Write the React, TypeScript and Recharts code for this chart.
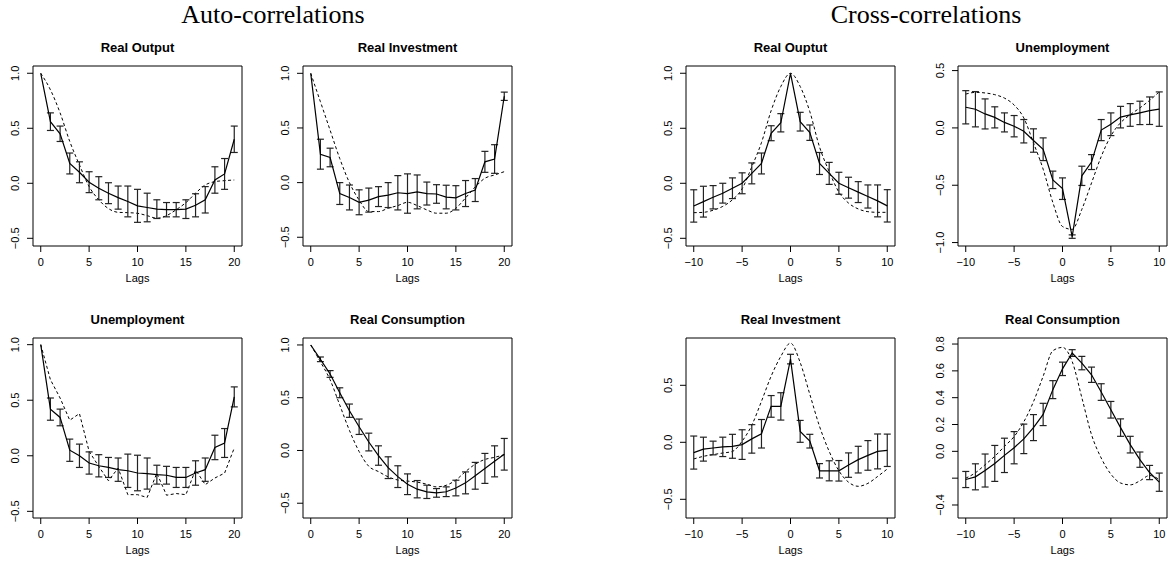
import { ErrorBar, Line, LineChart, ReferenceArea, XAxis, YAxis } from "recharts";

// lags
const AUTO_LAGS = [0, 1, 2, 3, 4, 5, 6, 7, 8, 9, 10, 11, 12, 13, 14, 15, 16, 17, 18, 19, 20];
const CROSS_LAGS = [-10, -9, -8, -7, -6, -5, -4, -3, -2, -1, 0, 1, 2, 3, 4, 5, 6, 7, 8, 9, 10];
const AUTO_TICKS = [0, 5, 10, 15, 20];
const CROSS_TICKS = [-10, -5, 0, 5, 10];

// Auto-correlations: data (solid, with error bars) and model (dashed)
const outputAutoData = [1.0, 0.56, 0.45, 0.18, 0.1, 0.01, -0.045, -0.09, -0.13, -0.165, -0.205, -0.22, -0.235, -0.24, -0.24, -0.235, -0.2, -0.15, 0.03, 0.085, 0.4];
const outputAutoErr = [null, 0.08, 0.07, 0.095, 0.095, 0.095, 0.105, 0.095, 0.105, 0.14, 0.15, 0.13, 0.085, 0.065, 0.065, 0.085, 0.105, 0.12, 0.12, 0.14, 0.12];
const outputAutoModel = [1.0, 0.85, 0.64, 0.38, 0.167, -0.03, -0.15, -0.23, -0.264, -0.267, -0.273, -0.294, -0.318, -0.294, -0.24, -0.176, -0.09, -0.015, 0.015, 0.024, 0.03];

const investAutoData = [1.0, 0.26, 0.23, -0.1, -0.136, -0.18, -0.16, -0.128, -0.114, -0.093, -0.1, -0.085, -0.1, -0.104, -0.132, -0.139, -0.1, -0.068, 0.19, 0.216, 0.79];
const investAutoErr = [null, 0.137, 0.085, 0.1, 0.114, 0.114, 0.11, 0.091, 0.114, 0.157, 0.18, 0.155, 0.105, 0.085, 0.108, 0.111, 0.119, 0.105, 0.096, 0.131, 0.038];
const investAutoModel = [1.0, 0.74, 0.48, 0.22, 0.0, -0.16, -0.265, -0.265, -0.235, -0.21, -0.18, -0.21, -0.25, -0.28, -0.28, -0.235, -0.14, -0.04, 0.04, 0.07, 0.1];

const unempAutoData = [1.0, 0.42, 0.345, 0.05, 0.0, -0.065, -0.09, -0.105, -0.125, -0.135, -0.155, -0.16, -0.17, -0.175, -0.195, -0.195, -0.155, -0.125, 0.075, 0.115, 0.53];
const unempAutoErr = [null, 0.1, 0.075, 0.1, 0.105, 0.1, 0.1, 0.09, 0.105, 0.15, 0.16, 0.14, 0.085, 0.08, 0.09, 0.09, 0.11, 0.105, 0.11, 0.13, 0.09];
const unempAutoModel = [1.0, 0.685, 0.52, 0.32, 0.38, 0.04, -0.096, -0.225, -0.11, -0.35, -0.35, -0.375, -0.156, -0.355, -0.34, -0.35, -0.126, -0.26, -0.2, -0.156, 0.07];

const consAutoData = [1.0, 0.864, 0.725, 0.547, 0.377, 0.225, 0.08, -0.048, -0.163, -0.248, -0.32, -0.367, -0.392, -0.402, -0.391, -0.356, -0.307, -0.24, -0.17, -0.103, -0.036];
const consAutoErr = [null, 0.022, 0.032, 0.047, 0.063, 0.073, 0.084, 0.092, 0.103, 0.103, 0.098, 0.082, 0.063, 0.041, 0.046, 0.074, 0.104, 0.127, 0.142, 0.147, 0.15];
const consAutoModel = [1.0, 0.84, 0.67, 0.43, 0.19, -0.01, -0.15, -0.2, -0.25, -0.28, -0.29, -0.3, -0.32, -0.345, -0.33, -0.28, -0.2, -0.13, -0.085, -0.065, -0.04];

// Cross-correlations with output
const outputCrossData = [-0.206, -0.167, -0.127, -0.09, -0.045, 0.0, 0.09, 0.18, 0.455, 0.55, 1.0, 0.56, 0.46, 0.18, 0.09, 0.0, -0.04, -0.08, -0.12, -0.16, -0.205];
const outputCrossErr = [0.147, 0.14, 0.106, 0.09, 0.094, 0.095, 0.095, 0.095, 0.068, 0.083, null, 0.085, 0.07, 0.1, 0.1, 0.1, 0.095, 0.095, 0.105, 0.145, 0.147];
const outputCrossModel = [-0.267, -0.264, -0.245, -0.21, -0.15, -0.05, 0.15, 0.37, 0.66, 0.88, 1.0, 0.88, 0.65, 0.33, 0.106, -0.08, -0.18, -0.233, -0.258, -0.264, -0.264];

const unempCrossData = [0.18, 0.163, 0.122, 0.092, 0.048, 0.015, -0.029, -0.11, -0.186, -0.453, -0.53, -0.948, -0.418, -0.298, -0.019, 0.032, 0.094, 0.113, 0.131, 0.15, 0.164];
const unempCrossErr = [0.145, 0.154, 0.131, 0.092, 0.083, 0.093, 0.102, 0.102, 0.099, 0.076, 0.094, 0.015, 0.084, 0.065, 0.092, 0.099, 0.094, 0.099, 0.102, 0.12, 0.15];
const unempCrossModel = [0.295, 0.31, 0.305, 0.29, 0.26, 0.2, 0.087, -0.13, -0.36, -0.65, -0.86, -0.885, -0.71, -0.48, -0.25, -0.07, 0.045, 0.115, 0.175, 0.24, 0.315];

const investCrossData = [-0.09, -0.06, -0.05, -0.04, -0.035, -0.02, 0.03, 0.075, 0.315, 0.315, 0.73, 0.096, 0.01, -0.25, -0.25, -0.25, -0.2, -0.152, -0.115, -0.08, -0.07];
const investCrossErr = [0.145, 0.105, 0.06, 0.085, 0.105, 0.13, 0.125, 0.125, 0.095, 0.12, 0.042, 0.096, 0.06, 0.063, 0.088, 0.09, 0.107, 0.117, 0.13, 0.153, 0.142];
const investCrossModel = [-0.146, -0.123, -0.108, -0.094, -0.08, 0.01, 0.15, 0.36, 0.58, 0.754, 0.87, 0.7, 0.42, 0.14, -0.08, -0.25, -0.35, -0.386, -0.36, -0.3, -0.234];

const consCrossData = [-0.21, -0.19, -0.143, -0.09, -0.03, 0.027, 0.093, 0.177, 0.275, 0.46, 0.615, 0.733, 0.658, 0.571, 0.442, 0.31, 0.177, 0.05, -0.062, -0.158, -0.23];
const consCrossErr = [0.06, 0.097, 0.123, 0.134, 0.128, 0.12, 0.11, 0.097, 0.083, 0.067, 0.05, 0.025, 0.05, 0.057, 0.062, 0.062, 0.065, 0.062, 0.057, 0.053, 0.068];
const consCrossModel = [-0.2, -0.16, -0.1, -0.037, 0.037, 0.11, 0.22, 0.37, 0.56, 0.75, 0.775, 0.67, 0.4, 0.124, -0.05, -0.17, -0.236, -0.25, -0.22, -0.18, -0.21];

const BOX_W = 209;
const BOX_H = 180;
const ML = 40;
const MT = 40;
const MR = 10;
const MB = 45;
const SANS = "'Liberation Sans', Arial, Helvetica, sans-serif";

const AUTO_X: [number, number] = [-0.8, 20.8];
const CROSS_X: [number, number] = [-10.8, 10.8];

const panels = [
  { title: "Real Output", left: 33, top: 66, lags: AUTO_LAGS, data: outputAutoData, err: outputAutoErr, model: outputAutoModel, xTicks: AUTO_TICKS, xDomain: AUTO_X, yTicks: [-0.5, 0, 0.5, 1], yDomain: [-0.57, 1.066], smooth: true },
  { title: "Real Investment", left: 303, top: 66, lags: AUTO_LAGS, data: investAutoData, err: investAutoErr, model: investAutoModel, xTicks: AUTO_TICKS, xDomain: AUTO_X, yTicks: [-0.5, 0, 0.5, 1], yDomain: [-0.58, 1.067], smooth: true },
  { title: "Unemployment", left: 33, top: 338, lags: AUTO_LAGS, data: unempAutoData, err: unempAutoErr, model: unempAutoModel, xTicks: AUTO_TICKS, xDomain: AUTO_X, yTicks: [-0.5, 0, 0.5, 1], yDomain: [-0.56, 1.06], smooth: false },
  { title: "Real Consumption", left: 303, top: 338, lags: AUTO_LAGS, data: consAutoData, err: consAutoErr, model: consAutoModel, xTicks: AUTO_TICKS, xDomain: AUTO_X, yTicks: [-0.5, 0, 0.5, 1], yDomain: [-0.64, 1.066], smooth: true },
  { title: "Real Ouptut", left: 686, top: 66, lags: CROSS_LAGS, data: outputCrossData, err: outputCrossErr, model: outputCrossModel, xTicks: CROSS_TICKS, xDomain: CROSS_X, yTicks: [-0.5, 0, 0.5, 1], yDomain: [-0.57, 1.066], smooth: true },
  { title: "Unemployment", left: 958, top: 66, lags: CROSS_LAGS, data: unempCrossData, err: unempCrossErr, model: unempCrossModel, xTicks: CROSS_TICKS, xDomain: CROSS_X, yTicks: [-1, -0.5, 0, 0.5], yDomain: [-1.03, 0.54], smooth: true },
  { title: "Real Investment", left: 686, top: 338, lags: CROSS_LAGS, data: investCrossData, err: investCrossErr, model: investCrossModel, xTicks: CROSS_TICKS, xDomain: CROSS_X, yTicks: [-0.5, 0, 0.5], yDomain: [-0.664, 0.915], smooth: true },
  { title: "Real Consumption", left: 958, top: 338, lags: CROSS_LAGS, data: consCrossData, err: consCrossErr, model: consCrossModel, xTicks: CROSS_TICKS, xDomain: CROSS_X, yTicks: [-0.4, -0.2, 0, 0.2, 0.4, 0.6, 0.8], yDomain: [-0.497, 0.845], smooth: true, noLabel: [-0.2] },
];

const minus = (s: string) => s.replace("-", "\u2212");

function XTick(props: any) {
  const { x, y, payload } = props;
  return (
    <text x={x} y={y + 12} textAnchor="middle" fontSize={11} fontFamily={SANS} fill="#000">
      {minus(String(payload.value))}
    </text>
  );
}

function YTick(props: any) {
  const { x, y, payload, noLabel } = props;
  if (noLabel && noLabel.includes(payload.value)) return <g />;
  return (
    <text transform={`translate(${x - 6},${y}) rotate(-90)`} textAnchor="middle" fontSize={11} fontFamily={SANS} fill="#000">
      {minus(Number(payload.value).toFixed(1))}
    </text>
  );
}

function Panel({ p }: { p: any }) {
  const rows = p.lags.map((lag: number, i: number) => ({ lag, sim: p.data[i], err: p.err[i], model: p.model[i] }));
  return (
    <div style={{ position: "absolute", left: p.left - ML, top: p.top - MT }}>
      <LineChart width={BOX_W + ML + MR} height={BOX_H + MT + MB} data={rows} margin={{ top: MT, right: MR, bottom: 0, left: 0 }}>
        <XAxis dataKey="lag" type="number" domain={p.xDomain} ticks={p.xTicks} allowDataOverflow interval={0} axisLine={false} tickSize={6} tickLine={{ stroke: "#000" }} height={MB} tick={(t: any) => <XTick {...t} />} />
        <YAxis type="number" domain={p.yDomain} ticks={p.yTicks} allowDataOverflow interval={0} axisLine={false} tickSize={6} tickLine={{ stroke: "#000" }} width={ML} tick={(t: any) => <YTick {...t} noLabel={p.noLabel} />} />
        <ReferenceArea x1={p.xDomain[0]} x2={p.xDomain[1]} y1={p.yDomain[0]} y2={p.yDomain[1]} fill="none" stroke="#000" strokeWidth={1} ifOverflow="visible" />
        <Line dataKey="model" type={p.smooth ? "monotone" : "linear"} stroke="#000" strokeWidth={1} strokeDasharray="3 2.5" dot={false} activeDot={false} isAnimationActive={false} />
        <Line dataKey="sim" type="linear" stroke="#000" strokeWidth={1.2} dot={false} activeDot={false} isAnimationActive={false}>
          <ErrorBar dataKey="err" direction="y" width={3.5} stroke="#222" strokeWidth={1.2} isAnimationActive={false} />
        </Line>
      </LineChart>
    </div>
  );
}

export default function App() {
  return (
    <div style={{ position: "absolute", left: 0, top: 0, width: 1174, height: 566, background: "#fff", overflow: "hidden" }}>
      {panels.map((p, i) => (
        <Panel key={i} p={p} />
      ))}
      <svg width={1174} height={566} style={{ position: "absolute", left: 0, top: 0, pointerEvents: "none" }}>
        <text x={273} y={23} textAnchor="middle" fontSize={26} fontFamily="'Liberation Serif', 'Times New Roman', serif" fill="#000">
          Auto-correlations
        </text>
        <text x={926} y={23} textAnchor="middle" fontSize={26} fontFamily="'Liberation Serif', 'Times New Roman', serif" fill="#000">
          Cross-correlations
        </text>
        {panels.map((p, i) => (
          <g key={i}>
            <text x={p.left + BOX_W / 2} y={p.top - 14} textAnchor="middle" fontSize={13} fontWeight="bold" fontFamily={SANS} fill="#000">
              {p.title}
            </text>
            <text x={p.left + BOX_W / 2} y={p.top + BOX_H + 36} textAnchor="middle" fontSize={11} fontFamily={SANS} fill="#000">
              Lags
            </text>
          </g>
        ))}
      </svg>
    </div>
  );
}
